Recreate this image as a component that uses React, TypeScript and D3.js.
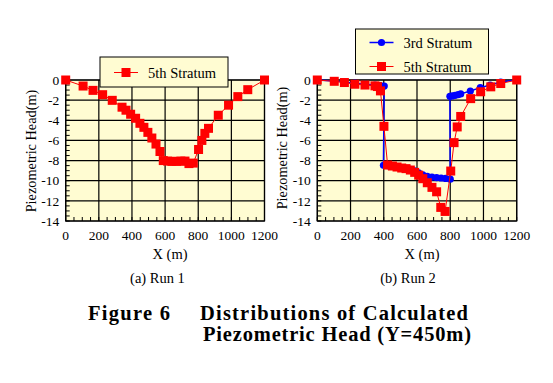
import React from "react";
import * as d3 from "d3";

// ---- data ----
const run1X5 = [0, 105, 165, 223, 281, 340, 364, 392, 422, 448, 472, 496, 520, 545, 569, 589, 615, 641, 669, 695, 720, 744, 770, 802, 822, 840, 862, 921, 983, 1039, 1099, 1200];
const run1Y5 = [0, -0.6, -1.03, -1.46, -2.02, -2.7, -3.0, -3.4, -3.8, -4.3, -4.7, -5.2, -5.76, -6.36, -7.1, -8.0, -8.05, -8.08, -8.08, -8.05, -8.05, -8.3, -8.25, -6.9, -6.0, -5.3, -4.8, -3.5, -2.5, -1.65, -0.96, 0];

const run2X5 = [0, 102, 163, 226, 287, 347, 362, 380, 401, 423, 452, 480, 508, 534, 560, 586, 610, 635, 662, 690, 718, 743, 769, 803, 823, 842, 863, 923, 983, 1044, 1104, 1200];
const run2Y5 = [0, -0.13, -0.25, -0.42, -0.5, -0.58, -0.65, -1.08, -4.6, -8.44, -8.54, -8.64, -8.74, -8.8, -8.94, -9.17, -9.45, -9.8, -10.2, -10.66, -11.1, -12.65, -13.05, -9.04, -6.22, -4.66, -3.62, -1.85, -1.17, -0.68, -0.35, 0];

const run2X3 = [0, 102, 163, 226, 287, 347, 380, 403, 398, 423, 452, 480, 508, 534, 560, 586, 610, 635, 662, 690, 718, 745, 772, 800, 798, 812, 830, 848, 863, 921, 981, 1040, 1104, 1200];
const run2Y3 = [0, -0.1, -0.2, -0.32, -0.42, -0.5, -0.56, -0.6, -8.47, -8.5, -8.56, -8.63, -8.7, -8.78, -8.88, -9.02, -9.22, -9.42, -9.56, -9.64, -9.7, -9.73, -9.77, -9.85, -1.62, -1.58, -1.52, -1.45, -1.38, -1.1, -0.76, -0.5, -0.2, 0];

const xTicks = [0, 200, 400, 600, 800, 1000, 1200];
const yTicks = [0, -2, -4, -6, -8, -10, -12, -14];

const titleLine1a = "Figure 6";
const titleLine1b = "Distributions of Calculated";
const titleLine2 = "Piezometric Head (Y=450m)";

const RED = "#ff0000";
const BLUE = "#0000ff";
const CREAM = "#fffcd2";
const FONT = "'Liberation Serif', 'Times New Roman', serif";

type Series = { xs: number[]; ys: number[]; color: string; shape: "square" | "circle"; name: string };

function Panel({ left, right, caption, series, legend, xLabelX, yLabelY, captionX }: {
  left: number; right: number; caption: string; series: Series[];
  legend: { x: number; y: number; w: number; h: number; rowY: number[] };
  xLabelX: number; yLabelY: number; captionX: number;
}) {
  const top = 80, bottom = 221;
  const x = d3.scaleLinear().domain([0, 1200]).range([left, right]);
  const y = d3.scaleLinear().domain([-14, 0]).range([bottom, top]);
  const minorX = d3.range(0, 1201, 50);
  const minorY = d3.range(-14, 0.01, 0.5);
  return (
    <g>
      <rect x={left} y={top} width={right - left} height={bottom - top} fill={CREAM} />
      {xTicks.map((t) => (
        <line key={"gx" + t} x1={x(t)} x2={x(t)} y1={top} y2={bottom} stroke="#000" strokeWidth={1.2} />
      ))}
      {yTicks.map((t) => (
        <line key={"gy" + t} x1={left} x2={right} y1={y(t)} y2={y(t)} stroke="#000" strokeWidth={1.2} />
      ))}
      {minorX.map((t) => (
        <line key={"mx" + t} x1={x(t)} x2={x(t)} y1={bottom} y2={bottom - 4} stroke="#000" strokeWidth={1} />
      ))}
      {minorY.map((t) => (
        <line key={"my" + t} x1={left} x2={left + 4} y1={y(t)} y2={y(t)} stroke="#000" strokeWidth={1} />
      ))}
      <rect x={left} y={top} width={right - left} height={bottom - top} fill="none" stroke="#000" strokeWidth={1.2} />
      {xTicks.map((t) => (
        <text key={"tx" + t} x={x(t)} y={240} textAnchor="middle" fontSize={13.5} fontFamily={FONT}>{t}</text>
      ))}
      {yTicks.map((t) => (
        <text key={"ty" + t} x={left - 6.5} y={y(t)} dy="0.35em" textAnchor="end" fontSize={13.5} fontFamily={FONT}>{String(t)}</text>
      ))}
      <text x={xLabelX} y={259} textAnchor="middle" fontSize={14.5} fontFamily={FONT}>X (m)</text>
      <text transform={`translate(${left - 35},${yLabelY}) rotate(-90)`} textAnchor="middle" dy="0.35em" fontSize={14.3} fontFamily={FONT}>Piezometric Head(m)</text>
      <text x={captionX} y={283} textAnchor="middle" fontSize={14.5} fontFamily={FONT}>{caption}</text>
      {series.map((s, si) => {
        const line = d3.line<number>().x((_, i) => x(s.xs[i])).y((_, i) => y(s.ys[i]));
        return (
          <g key={"s" + si}>
            <path d={line(s.xs) || ""} fill="none" stroke={s.color} strokeWidth={s.shape === "circle" ? 1.5 : 1} />
            {s.xs.map((v, i) =>
              s.shape === "square" ? (
                <rect key={i} x={x(v) - 4.5} y={y(s.ys[i]) - 4.5} width={9} height={9} fill={s.color} />
              ) : (
                <circle key={i} cx={x(v)} cy={y(s.ys[i])} r={3.6} fill={s.color} />
              )
            )}
          </g>
        );
      })}
      <rect x={legend.x} y={legend.y} width={legend.w} height={legend.h} fill={CREAM} stroke="#000" strokeWidth={1} />
      {[...series].reverse().map((s, i) => {
        const ry = legend.rowY[i];
        const lx = legend.x + 14;
        return (
          <g key={"lg" + i}>
            <line x1={lx} x2={lx + 24} y1={ry} y2={ry} stroke={s.color} strokeWidth={s.shape === "circle" ? 1.5 : 1} />
            {s.shape === "square" ? (
              <rect x={lx + 12 - 4.5} y={ry - 4.5} width={9} height={9} fill={s.color} />
            ) : (
              <circle cx={lx + 12} cy={ry} r={3.6} fill={s.color} />
            )}
            <text x={lx + 34} y={ry} dy="0.35em" fontSize={14.5} fontFamily={FONT}>{s.name}</text>
          </g>
        );
      })}
    </g>
  );
}

export default function App() {
  const s1: Series[] = [{ xs: run1X5, ys: run1Y5, color: RED, shape: "square", name: "5th Stratum" }];
  const s2: Series[] = [
    { xs: run2X3, ys: run2Y3, color: BLUE, shape: "circle", name: "3rd Stratum" },
    { xs: run2X5, ys: run2Y5, color: RED, shape: "square", name: "5th Stratum" },
  ];
  return (
    <svg width={553} height={383} style={{ position: "absolute", left: 0, top: 0, background: "#fff" }}>
      <Panel left={65.7} right={264.5} caption="(a) Run 1" series={s1} captionX={157.5}
        legend={{ x: 100, y: 57, w: 128, h: 30, rowY: [72.5] }} xLabelX={170} yLabelY={151} />
      <Panel left={317.3} right={516.7} caption="(b) Run 2" series={s2} captionX={408}
        legend={{ x: 355.5, y: 29, w: 133, h: 45, rowY: [66.5, 42.5] }} xLabelX={422} yLabelY={148} />
      <text x={88} y={320} fontSize={20.5} fontWeight="bold" fontFamily={FONT} textLength={82} lengthAdjust="spacing">{titleLine1a}</text>
      <text x={200} y={320} fontSize={20.5} fontWeight="bold" fontFamily={FONT} textLength={268} lengthAdjust="spacing">{titleLine1b}</text>
      <text x={203} y={341} fontSize={20.5} fontWeight="bold" fontFamily={FONT} textLength={268} lengthAdjust="spacing">{titleLine2}</text>
    </svg>
  );
}
